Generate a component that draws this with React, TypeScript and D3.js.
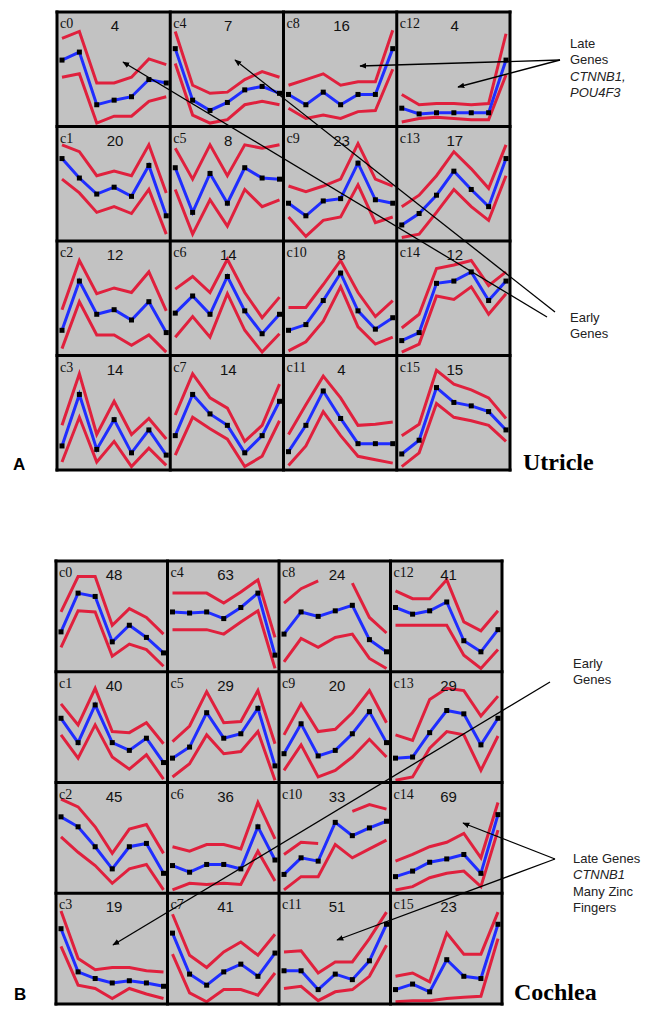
import React from "react";
import * as d3 from "d3";

// cluster sizes, c0..c15 (cluster k sits in column floor(k/4), row k%4)
const utricleCounts = [4, 20, 12, 14, 7, 8, 14, 14, 16, 23, 8, 4, 4, 17, 12, 15];
const cochleaCounts = [48, 40, 45, 19, 63, 29, 36, 41, 24, 20, 33, 51, 41, 29, 69, 23];

// mean profile over 7 time points, in % of cell height
const utricleMean = [
  [58, 65, 19, 23, 26, 41, 38],
  [72, 55, 41, 47, 39, 66, 22],
  [22, 65, 36, 40, 31, 47, 20],
  [21, 66, 18, 44, 15, 35, 13],
  [68, 23, 14, 21, 32, 35, 29],
  [64, 25, 59, 33, 64, 55, 54],
  [37, 52, 36, 69, 39, 19, 36],
  [30, 66, 49, 39, 15, 30, 60],
  [28, 19, 30, 19, 28, 28, 68],
  [33, 22, 35, 37, 68, 36, 33],
  [22, 27, 48, 72, 39, 23, 33],
  [16, 39, 69, 45, 23, 23, 23],
  [16, 11, 12, 12, 12, 12, 58],
  [14, 24, 40, 61, 45, 30, 72],
  [13, 20, 63, 65, 73, 48, 65],
  [14, 26, 72, 59, 56, 51, 35],
];
const utricleUpper = [
  [77, 83, 38, 38, 43, 59, 54],
  [84, 78, 57, 61, 57, 84, 42],
  [40, 83, 54, 59, 55, 73, 39],
  [39, 84, 31, 60, 31, 45, 27],
  [83, 36, 29, 30, 41, 48, 43],
  [81, 54, 84, 57, 84, 81, 84],
  [58, 69, 55, 84, 55, 33, 51],
  [48, 84, 63, 54, 25, 39, 75],
  [36, 41, 46, 36, 39, 39, 84],
  [48, 43, 48, 54, 85, 54, 48],
  [42, 42, 62, 83, 55, 34, 48],
  [31, 57, 82, 63, 39, 40, 42],
  [28, 19, 20, 20, 19, 20, 81],
  [30, 40, 57, 78, 63, 46, 84],
  [24, 36, 76, 79, 83, 61, 73],
  [30, 40, 87, 75, 70, 63, 45],
];
const utricleLower = [
  [43, 46, 3, 9, 9, 22, 26],
  [54, 42, 25, 30, 24, 45, 6],
  [6, 47, 18, 18, 9, 18, 3],
  [7, 46, 7, 25, 3, 19, 4],
  [55, 10, 3, 6, 19, 22, 19],
  [45, 6, 36, 13, 45, 30, 36],
  [16, 34, 16, 54, 22, 3, 19],
  [13, 46, 36, 27, 3, 12, 43],
  [16, 7, 10, 7, 13, 14, 50],
  [21, 4, 18, 21, 49, 16, 21],
  [4, 12, 30, 60, 25, 10, 16],
  [4, 21, 51, 30, 12, 9, 6],
  [4, 7, 8, 7, 6, 6, 45],
  [3, 6, 25, 45, 30, 18, 57],
  [3, 10, 52, 49, 60, 36, 54],
  [3, 15, 58, 46, 43, 39, 25],
];

const cochleaMean = [
  [36, 71, 68, 27, 42, 31, 17],
  [58, 36, 70, 36, 29, 40, 18],
  [69, 60, 42, 22, 42, 45, 18],
  [68, 29, 23, 19, 21, 19, 16],
  [54, 53, 54, 48, 58, 71, 15],
  [22, 32, 63, 40, 44, 67, 15],
  [25, 19, 26, 26, 22, 60, 30],
  [64, 27, 17, 29, 36, 25, 46],
  [34, 54, 50, 55, 60, 29, 18],
  [26, 53, 24, 29, 44, 64, 36],
  [17, 32, 29, 64, 52, 59, 65],
  [30, 30, 13, 27, 22, 39, 72],
  [58, 52, 55, 63, 28, 18, 38],
  [22, 23, 45, 65, 62, 34, 58],
  [15, 20, 28, 31, 35, 18, 71],
  [13, 18, 11, 40, 25, 23, 72],
];
const cochleaUpper = [
  [54, 86, 86, 42, 57, 49, 34],
  [71, 52, 85, 46, 45, 54, 35],
  [85, 78, 60, 36, 58, 62, 36],
  [84, 41, 31, 33, 33, 30, 29],
  [71, 71, 71, 62, 72, 83, 31],
  [37, 51, 82, 54, 55, 83, 35],
  [42, 38, 44, 44, 40, 82, 49],
  [81, 44, 33, 47, 56, 44, 63],
  [62, 75, 82, null, 80, 49, 35],
  [43, 71, 46, 48, 63, 83, 54],
  [35, 46, 45, null, 74, 80, 76],
  [47, 48, 28, 38, 38, 59, 83],
  [73, 66, 66, 83, 45, 37, 55],
  [43, 38, 75, 85, 83, 60, 78],
  [29, 35, 42, 46, 54, 32, 82],
  [25, 28, 20, 64, 45, 45, 83],
];
const cochleaLower = [
  [22, 55, 54, 14, 25, 20, 5],
  [43, 22, 52, 23, 12, 25, 3],
  [51, 37, 25, 9, 22, 26, 3],
  [52, 17, 14, 5, 14, 9, 5],
  [38, 38, 38, 34, 45, 55, 3],
  [5, 17, 43, 26, 28, 46, 2],
  [3, 9, 8, 9, 8, 38, 11],
  [45, 10, 2, 13, 13, 8, 28],
  [9, 30, 22, 31, 34, 12, 3],
  [11, 34, 5, 11, 23, 39, 23],
  [3, 15, 15, 44, 32, 40, 48],
  [14, 16, 3, 11, 13, 25, 53],
  [42, 42, 42, 42, 15, 3, 20],
  [2, 5, 31, 46, 43, 11, 42],
  [3, 6, 14, 18, 20, 6, 57],
  [2, 3, 3, 5, 6, 7, 59],
];

const RED = "#e0203d";
const BLUE = "#1f2dff";
const GREY = "#c2c2c2";

const Cell = ({ id, x, y, w, h, k, count, mean, upper, lower }) => {
  const sx = d3.scaleLinear().domain([0, 6]).range([x + 5, x + w - 4]);
  const sy = d3.scaleLinear().domain([0, 100]).range([y + h, y]);
  const line = d3
    .line()
    .defined(d => d != null)
    .x((d, i) => sx(i))
    .y(d => sy(d));
  const clipId = `${id}-clip-${k}`;
  return (
    <g>
      <rect x={x} y={y} width={w} height={h} fill={GREY} />
      <clipPath id={clipId}>
        <rect x={x + 1} y={y + 1} width={w - 2} height={h - 2} />
      </clipPath>
      <g clipPath={`url(#${clipId})`}>
        <path d={line(upper)} fill="none" stroke={RED} strokeWidth={3} />
        <path d={line(lower)} fill="none" stroke={RED} strokeWidth={3} />
        <path d={line(mean)} fill="none" stroke={BLUE} strokeWidth={3} />
        {mean.map((d, i) => (
          <rect key={i} x={sx(i) - 2.5} y={sy(d) - 2.5} width={5} height={5} fill="#000" />
        ))}
      </g>
      <text x={x + 3} y={y + 16} fontFamily="Liberation Serif" fontSize={14} fill="#111">
        {`c${k}`}
      </text>
      <text x={x + 58} y={y + 19} textAnchor="middle" fontFamily="Liberation Sans" fontSize={15} fill="#111">
        {count}
      </text>
    </g>
  );
};

const Grid = ({ id, x0, y0, width, height, counts, mean, upper, lower }) => {
  const col = d3.scaleLinear().domain([0, 4]).range([x0, x0 + width]);
  const row = d3.scaleLinear().domain([0, 4]).range([y0, y0 + height]);
  const w = width / 4;
  const h = height / 4;
  return (
    <g>
      {counts.map((c, k) => (
        <Cell
          key={k}
          id={id}
          k={k}
          x={col(Math.floor(k / 4))}
          y={row(k % 4)}
          w={w}
          h={h}
          count={c}
          mean={mean[k]}
          upper={upper[k]}
          lower={lower[k]}
        />
      ))}
      {d3.range(5).map(i => (
        <g key={i}>
          <line x1={col(i)} x2={col(i)} y1={y0 - 1.5} y2={y0 + height + 1.5} stroke="#000" strokeWidth={3} />
          <line x1={x0 - 1.5} x2={x0 + width + 1.5} y1={row(i)} y2={row(i)} stroke="#000" strokeWidth={3} />
        </g>
      ))}
    </g>
  );
};

const Arrow = ({ x1, y1, x2, y2 }) => (
  <line x1={x1} y1={y1} x2={x2} y2={y2} stroke="#000" strokeWidth={1.3} markerEnd="url(#arrowhead)" />
);

const Note = ({ x, y, lines }) => (
  <text fontFamily="Liberation Sans" fontSize={13} fill="#222">
    {lines.map((l, i) => (
      <tspan key={i} x={x} y={y + i * 16.3} fontStyle={l.italic ? "italic" : "normal"}>
        {l.t}
      </tspan>
    ))}
  </text>
);

export default function App() {
  return (
    <svg width={663} height={1009} style={{ position: "absolute", left: 0, top: 0, background: "#fff" }}>
      <defs>
        <marker id="arrowhead" viewBox="0 0 10 10" refX={9} refY={5} markerWidth={7} markerHeight={7} orient="auto" markerUnits="userSpaceOnUse">
          <path d="M0,1 L10,5 L0,9 Z" fill="#000" />
        </marker>
      </defs>

      <Grid id="utr" x0={57} y0={12} width={453} height={458} counts={utricleCounts} mean={utricleMean} upper={utricleUpper} lower={utricleLower} />
      <Grid id="coc" x0={56} y0={561} width={446} height={443} counts={cochleaCounts} mean={cochleaMean} upper={cochleaUpper} lower={cochleaLower} />

      {/* panel A annotations */}
      <Arrow x1={560} y1={60} x2={360} y2={66} />
      <Arrow x1={560} y1={60} x2={458} y2={87} />
      <Arrow x1={555} y1={312} x2={235} y2={60} />
      <Arrow x1={547} y1={317} x2={123} y2={62} />
      <Note x={570} y={48} lines={[{ t: "Late" }, { t: "Genes" }, { t: "CTNNB1,", italic: true }, { t: "POU4F3", italic: true }]} />
      <Note x={570} y={322} lines={[{ t: "Early" }, { t: "Genes" }]} />

      {/* panel B annotations */}
      <Arrow x1={550} y1={682} x2={113} y2={945} />
      <Arrow x1={555} y1={859} x2={463} y2={823} />
      <Arrow x1={555} y1={859} x2={337} y2={940} />
      <Note x={573} y={668} lines={[{ t: "Early" }, { t: "Genes" }]} />
      <Note x={573} y={863} lines={[{ t: "Late Genes" }, { t: "CTNNB1", italic: true }, { t: "Many Zinc" }, { t: "Fingers" }]} />

      <text x={13} y={470} fontFamily="Liberation Sans" fontWeight="bold" fontSize={17}>A</text>
      <text x={523} y={470} fontFamily="Liberation Serif" fontWeight="bold" fontSize={24}>Utricle</text>
      <text x={14} y={1000} fontFamily="Liberation Sans" fontWeight="bold" fontSize={17}>B</text>
      <text x={514} y={1000} fontFamily="Liberation Serif" fontWeight="bold" fontSize={24}>Cochlea</text>
    </svg>
  );
}
